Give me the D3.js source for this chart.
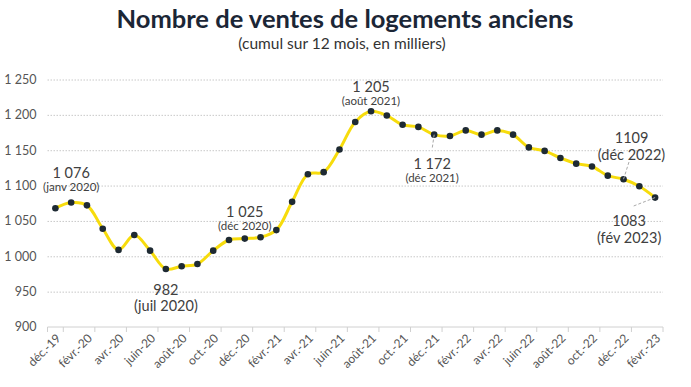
<!DOCTYPE html>
<html>
<head>
<meta charset="utf-8">
<script src="https://cdn.jsdelivr.net/npm/d3@7"></script>
<style>
  body { margin: 0; background: #fff; }
  svg { font-family: Lato, "Open Sans", sans-serif; }
  .grid line { stroke: #c8c8c8; stroke-dasharray: 1.5, 1.5; }
  .grid .domain { display: none; }
</style>
</head>
<body>
<script>
// months shown on the x axis (one per point)
var months = ["déc.-19","janv.-20","févr.-20","mars-20","avr.-20","mai-20","juin-20","juil.-20","août-20","sept.-20","oct.-20","nov.-20",
  "déc.-20","janv.-21","févr.-21","mars-21","avr.-21","mai-21","juin-21","juil.-21","août-21","sept.-21","oct.-21","nov.-21",
  "déc.-21","janv.-22","févr.-22","mars-22","avr.-22","mai-22","juin-22","juil.-22","août-22","sept.-22","oct.-22","nov.-22",
  "déc.-22","janv.-23","févr.-23"];

// sales, cumulated over 12 months, in thousands
var ventes = [1068,1076,1072,1039,1009,1030,1008,982,986,989,1008,1023,
  1025,1027,1037,1077,1116,1119,1151,1190,1205,1199,1186,1183,
  1172,1170,1178,1172,1178,1172,1154,1149,1139,1131,1127,1114,
  1109,1099,1083];

var yTicks = [900,950,1000,1050,1100,1150,1200,1250];

// annotations: month index, value text, period text, small period font?
var notes = [
  {i: 1,  val: "1 076", per: "(janv 2020)", small: true},
  {i: 7,  val: "982",   per: "(juil 2020)", small: false},
  {i: 12, val: "1 025", per: "(déc 2020)",  small: true},
  {i: 20, val: "1 205", per: "(août 2021)", small: true},
  {i: 24, val: "1 172", per: "(déc 2021)",  small: true},
  {i: 36, val: "1109",  per: "(déc 2022)",  small: false},
  {i: 38, val: "1083",  per: "(fév 2023)",  small: false}
];

var W = 691, H = 387;
var margin = {top: 79.5, right: 28, bottom: 60, left: 47.5},
    width = W - margin.left - margin.right,
    height = 327 - margin.top;

var svg = d3.select("body").append("svg")
    .attr("width", W).attr("height", H);

// title
svg.append("text")
    .attr("x", 345).attr("y", 28)
    .attr("text-anchor", "middle")
    .style("font-size", "25.5px").style("font-weight", "bold")
    .style("fill", "#1b2636")
    .text("Nombre de ventes de logements anciens");
svg.append("text")
    .attr("x", 342).attr("y", 48.5)
    .attr("text-anchor", "middle")
    .style("font-size", "15.5px").style("fill", "#333")
    .text("(cumul sur 12 mois, en milliers)");

var g = svg.append("g")
    .attr("transform", "translate(" + margin.left + "," + margin.top + ")");

var x = d3.scaleBand().domain(months).range([0, width]);
var y = d3.scaleLinear().domain([900, 1250]).range([height, 0]);
var cx = function(i) { return x(months[i]) + x.bandwidth() / 2; };

// gridlines
g.append("g").attr("class", "grid")
  .call(d3.axisLeft(y).tickValues(yTicks.slice(1)).tickSize(-width).tickFormat(""));

// y labels
g.selectAll(".ylab").data(yTicks).enter().append("text")
    .attr("class", "ylab")
    .attr("x", -11).attr("y", function(d) { return y(d); })
    .attr("dy", "0.35em")
    .attr("text-anchor", "end")
    .style("font-size", "12.5px").style("fill", "#555")
    .text(function(d) { return d3.format(",")(d).replace(",", " "); });

// x axis line and ticks every 2 months
g.append("line")
    .attr("x1", 0).attr("x2", width).attr("y1", height).attr("y2", height)
    .style("stroke", "#d0d0d0");
var tickIdx = d3.range(0, months.length, 2);
g.selectAll(".xtick").data(tickIdx.concat([months.length])).enter().append("line")
    .attr("x1", function(i) { return i < months.length ? x(months[i]) - (i ? x.bandwidth() : 0) : width; })
    .attr("x2", function(i) { return i < months.length ? x(months[i]) - (i ? x.bandwidth() : 0) : width; })
    .attr("y1", height).attr("y2", height + 5)
    .style("stroke", "#d0d0d0");

g.selectAll(".xlab").data(tickIdx).enter().append("text")
    .attr("transform", function(i) { return "translate(" + (cx(i) + 3) + "," + (height + 9) + ") rotate(-45)"; })
    .attr("text-anchor", "end")
    .attr("dy", "0.35em")
    .style("font-size", "12px").style("fill", "#555")
    .text(function(i) { return months[i]; });

// the line
var line = d3.line()
    .x(function(d, i) { return cx(i); })
    .y(function(d) { return y(d); })
    .curve(d3.curveCatmullRom.alpha(0.5));

g.append("path")
    .attr("d", line(ventes))
    .style("fill", "none")
    .style("stroke", "#f7dc0c")
    .style("stroke-width", 3);

g.selectAll(".pt").data(ventes).enter().append("circle")
    .attr("cx", function(d, i) { return cx(i); })
    .attr("cy", function(d) { return y(d); })
    .attr("r", 3.3)
    .style("fill", "#1e2a33");

// leader lines for a few labels
var leaders = [
  {i: 24, dx: -2, dy: 14},
  {i: 36, dx: 6, dy: -19},
  {i: 38, dx: -23, dy: 9}
];
g.selectAll(".lead").data(leaders).enter().append("line")
    .attr("x1", function(d) { return cx(d.i); })
    .attr("y1", function(d) { return y(ventes[d.i]); })
    .attr("x2", function(d) { return cx(d.i) + d.dx; })
    .attr("y2", function(d) { return y(ventes[d.i]) + d.dy; })
    .style("stroke", "#aaa").style("stroke-dasharray", "3,2");

// annotation text positions (offsets from the point)
var pos = {
  1:  {dx: 0,  vy: -30, py: -16},
  7:  {dx: 0,  vy: 21,  py: 37},
  12: {dx: 0,  vy: -27, py: -13},
  20: {dx: 0,  vy: -24, py: -10},
  24: {dx: -2, vy: 29,  py: 43},
  36: {dx: 8,  vy: -41, py: -24},
  38: {dx: -26, vy: 23, py: 40}
};
notes.forEach(function(n) {
  var p = pos[n.i];
  var px = cx(n.i) + p.dx, py = y(ventes[n.i]);
  g.append("text")
      .attr("x", px).attr("y", py + p.vy).attr("dy", "0.35em")
      .attr("text-anchor", "middle")
      .style("font-size", "14.5px").style("fill", "#404040")
      .text(n.val);
  g.append("text")
      .attr("x", px).attr("y", py + p.py).attr("dy", "0.35em")
      .attr("text-anchor", "middle")
      .style("font-size", n.small ? "11.5px" : "14.5px").style("fill", "#404040")
      .text(n.per);
});
</script>
</body>
</html>
